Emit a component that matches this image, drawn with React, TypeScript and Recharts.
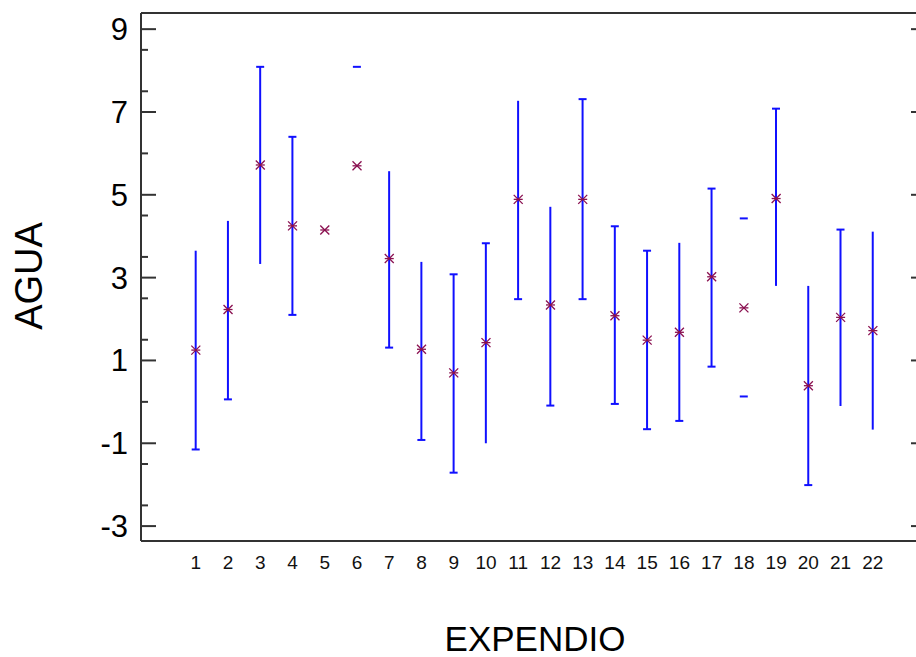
import { ComposedChart, Bar, Scatter, XAxis, YAxis } from "recharts";

// Expendios (categorías del eje X)
const EXPENDIO = [1, 2, 3, 4, 5, 6, 7, 8, 9, 10, 11, 12, 13, 14, 15, 16, 17, 18, 19, 20, 21, 22];

// Media de AGUA por expendio
const MEDIA = [
  1.25, 2.23, 5.72, 4.25, 4.15, 5.7, 3.46, 1.27, 0.7, 1.43, 4.89,
  2.34, 4.89, 2.08, 1.49, 1.68, 3.02, 2.27, 4.91, 0.39, 2.04, 1.72,
];

// Límites del intervalo (null = sin intervalo)
const LIM_INF = [
  -1.15, 0.06, 3.33, 2.1, null, 3.33, 1.31, -0.92, -1.71, -1.0, 2.48,
  -0.09, 2.48, -0.05, -0.66, -0.46, 0.85, 0.13, 2.8, -2.01, -0.1, -0.67,
];
const LIM_SUP = [
  3.65, 4.37, 8.09, 6.4, null, 8.09, 5.57, 3.38, 3.08, 3.83, 7.27,
  4.71, 7.31, 4.24, 3.65, 3.84, 5.15, 4.43, 7.08, 2.8, 4.16, 4.11,
];

// Qué partes del intervalo se ven en el original
const CAP_INF = [1, 1, 0, 1, 0, 0, 1, 1, 1, 0, 1, 1, 1, 1, 1, 1, 1, 1, 0, 1, 0, 0];
const CAP_SUP = [0, 0, 1, 1, 0, 1, 0, 0, 1, 1, 0, 0, 1, 1, 1, 0, 1, 1, 1, 0, 1, 0];
const CON_LINEA = [1, 1, 1, 1, 0, 0, 1, 1, 1, 1, 1, 1, 1, 1, 1, 1, 1, 0, 1, 1, 1, 1];

const Y_MAJOR = [-3, -1, 1, 3, 5, 7, 9];
const Y_MINOR = [-2.5, -1.5, 0, 1.5, 2.5, 3.5, 4.5, 6, 7.5, 8.5];

const FONT = "'Liberation Sans', Arial, sans-serif";
const BLUE = "#1010ff";
const MARK = "#8a1050";
const AXIS = "#333";
const LEFT = 141; // posición del eje izquierdo

const rows = EXPENDIO.map((x, i) => ({
  x,
  media: MEDIA[i],
  rango: LIM_INF[i] == null ? null : [LIM_INF[i], LIM_SUP[i]],
  capInf: !!CAP_INF[i],
  capSup: !!CAP_SUP[i],
  linea: !!CON_LINEA[i],
}));

function IntervalShape(props: any) {
  const { x, y, width, height, payload } = props;
  if (!payload || !payload.rango) return <g />;
  const cx = x + width / 2;
  const yTop = y;
  const yBot = y + height;
  return (
    <g stroke={BLUE} strokeWidth={2}>
      {payload.linea && <line x1={cx} x2={cx} y1={yTop} y2={yBot} />}
      {payload.capSup && <line x1={cx - 4} x2={cx + 4} y1={yTop} y2={yTop} />}
      {payload.capInf && <line x1={cx - 4} x2={cx + 4} y1={yBot} y2={yBot} />}
    </g>
  );
}

function Asterisk(props: any) {
  const { cx, cy } = props;
  if (cx == null || cy == null) return <g />;
  const r = 4.5;
  return (
    <g stroke={MARK} strokeWidth={1.3}>
      <line x1={cx - r} x2={cx + r} y1={cy - r} y2={cy + r} />
      <line x1={cx - r} x2={cx + r} y1={cy + r} y2={cy - r} />
      <line x1={cx - r} x2={cx + r} y1={cy} y2={cy} />
    </g>
  );
}

function LeftTick(props: any) {
  const { x, y, payload } = props;
  const v = payload.value;
  const major = Y_MAJOR.includes(v);
  return (
    <g>
      <line x1={LEFT} x2={LEFT + (major ? 15 : 7)} y1={y} y2={y} stroke={AXIS} strokeWidth={2} />
      {major && (
        <text x={x} y={y} dy="0.355em" textAnchor="end" fontSize={31} fontFamily={FONT} fill="#000">
          {v}
        </text>
      )}
    </g>
  );
}

function RightTick(props: any) {
  const { x, y } = props;
  return <line x1={x - 7} x2={x} y1={y} y2={y} stroke={AXIS} strokeWidth={2} />;
}

export default function App() {
  return (
    <div
      style={{
        position: "absolute",
        left: 0,
        top: 0,
        width: 916,
        height: 657,
        overflow: "hidden",
        background: "#fff",
      }}
    >
      <ComposedChart
        width={930}
        height={657}
        data={rows}
        margin={{ top: 0, right: 0, bottom: 0, left: 0 }}
      >
        <XAxis
          dataKey="x"
          type="number"
          domain={[-0.7, 23.4]}
          allowDataOverflow
          ticks={EXPENDIO}
          interval={0}
          height={116}
          tickLine={false}
          tickSize={0}
          tickMargin={15}
          axisLine={{ stroke: AXIS, strokeWidth: 2 }}
          tick={{ fontSize: 19, fill: "#111", fontFamily: FONT }}
        />
        <XAxis
          xAxisId="top"
          orientation="top"
          type="number"
          domain={[-0.7, 23.4]}
          allowDataOverflow
          height={13}
          ticks={[]}
          tick={false}
          tickLine={false}
          axisLine={{ stroke: AXIS, strokeWidth: 2 }}
        />
        <YAxis
          type="number"
          domain={[-3.36, 9.39]}
          allowDataOverflow
          ticks={[...Y_MAJOR, ...Y_MINOR].sort((a, b) => a - b)}
          interval={0}
          width={LEFT}
          tickLine={false}
          tickSize={0}
          tickMargin={13}
          axisLine={{ stroke: AXIS, strokeWidth: 2 }}
          tick={<LeftTick />}
        />
        <YAxis
          yAxisId="r"
          orientation="right"
          type="number"
          domain={[-3.36, 9.39]}
          allowDataOverflow
          ticks={Y_MAJOR}
          interval={0}
          width={12}
          tickLine={false}
          tickSize={0}
          tickMargin={0}
          axisLine={{ stroke: AXIS, strokeWidth: 2 }}
          tick={<RightTick />}
        />
        <Bar dataKey="rango" barSize={10} shape={<IntervalShape />} isAnimationActive={false} />
        <Scatter dataKey="media" shape={<Asterisk />} isAnimationActive={false} />
      </ComposedChart>
      <svg
        width={916}
        height={657}
        style={{ position: "absolute", left: 0, top: 0, pointerEvents: "none" }}
      >
        <text
          x={41.5}
          y={276}
          transform="rotate(-90 41.5 276)"
          textAnchor="middle"
          fontSize={38}
          fontFamily={FONT}
          fill="#000"
        >
          AGUA
        </text>
        <text x={535} y={651} textAnchor="middle" fontSize={35} fontFamily={FONT} fill="#000">
          EXPENDIO
        </text>
      </svg>
    </div>
  );
}
